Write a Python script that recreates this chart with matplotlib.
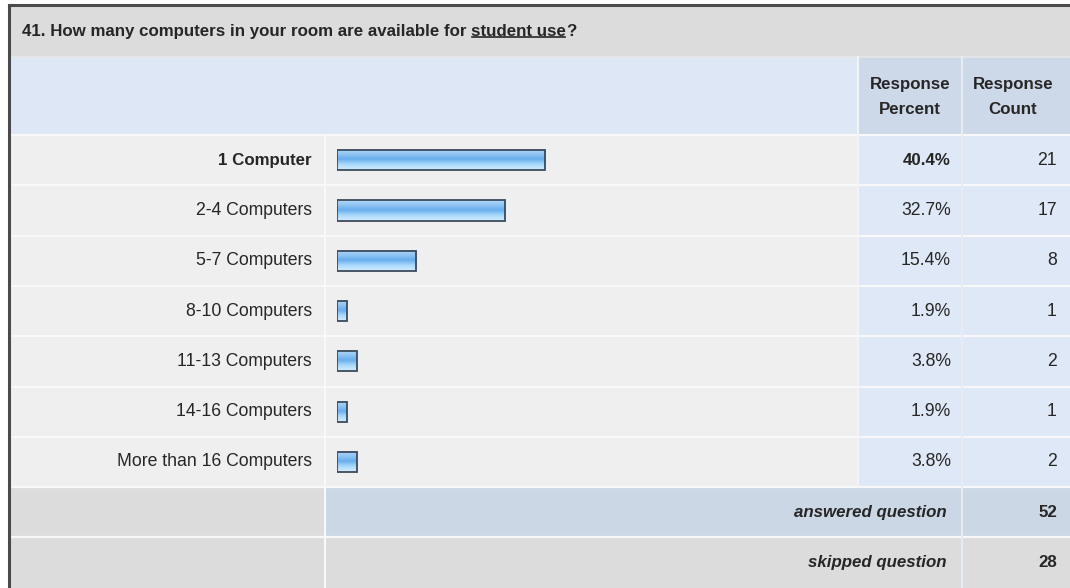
import numpy as np
import matplotlib
matplotlib.use("Agg")
import matplotlib.pyplot as plt
from matplotlib.colors import LinearSegmentedColormap
from matplotlib.patches import Rectangle

plt.rcParams['font.family'] = ['Liberation Sans', 'DejaVu Sans']

# ---- survey data ----
question_main = "41. How many computers in your room are available for "
question_emph = "student use"
question_end = "?"
categories = ["1 Computer", "2-4 Computers", "5-7 Computers", "8-10 Computers",
              "11-13 Computers", "14-16 Computers", "More than 16 Computers"]
percents = [40.4, 32.7, 15.4, 1.9, 3.8, 1.9, 3.8]
counts = [21, 17, 8, 1, 2, 1, 2]
answered = 52
skipped = 28

W, H = 1070, 588
fig = plt.figure(figsize=(W / 100, H / 100), dpi=100)
fig.patch.set_facecolor("white")
ax = fig.add_axes([0, 0, 1, 1])
ax.set_xlim(0, W)
ax.set_ylim(H, 0)
ax.axis("off")

TXT = "#262626"
FS_B = 12.2      # bold text
FS_R = 12.7      # regular text
GREY = "#dcdcdc"
ROWBG = "#efefef"
HEADBLUE = "#dde7f6"
COLBLUE = "#cdd8e8"
CELLBLUE = "#dfe8f6"
SUMBLUE = "#ccd7e6"

x0, xc1, xc2, xc3, x4 = 9, 325, 858, 962, W
y_title, y_head, y_rows = 6, 57, 135
row_h = 50.3
n = len(categories)
y_sum = y_rows + n * row_h


def cell(x1, y1, x2, y2, color):
    ax.add_patch(Rectangle((x1, y1), x2 - x1, y2 - y1, facecolor=color,
                           edgecolor="none", zorder=1))


# title band
cell(x0, y_title, x4, y_head, GREY)
# header band
cell(x0, y_head, xc2, y_rows, HEADBLUE)
cell(xc2, y_head, xc3, y_rows, COLBLUE)
cell(xc3, y_head, x4, y_rows, COLBLUE)

# body rows
for i in range(n):
    ya = y_rows + i * row_h
    yb = ya + row_h
    cell(x0, ya, xc2, yb, ROWBG)
    cell(xc2, ya, x4, yb, CELLBLUE)

# summary rows
cell(x0, y_sum, xc1, y_sum + row_h, GREY)
cell(xc1, y_sum, x4, y_sum + row_h, SUMBLUE)
cell(x0, y_sum + row_h, x4, H, GREY)

# grid lines
for i in range(n + 2):
    yy = y_rows + i * row_h
    ax.plot([x0, x4], [yy, yy], color="#f8f8f8", lw=1.6, zorder=2)
ax.plot([x0, x4], [y_head, y_head], color="#e6e6e6", lw=1.2, zorder=2)
ax.plot([xc1, xc1], [y_rows, H], color="#fafafa", lw=1.4, zorder=2)
ax.plot([xc2, xc2], [y_head, y_sum], color="#f4f4f4", lw=1.4, zorder=2)
ax.plot([xc3, xc3], [y_head, H], color="#e8edf4", lw=1.4, zorder=2)

# outer frame (left and top)
ax.plot([x0, x0], [y_title - 1, H], color="#4a4a4a", lw=2.2, zorder=5)
ax.plot([x0, x4], [y_title - 1, y_title - 1], color="#4a4a4a", lw=2.2, zorder=5)

# question title with underlined emphasis
ty = (y_title + y_head) / 2
t1 = ax.text(22, ty, question_main, fontsize=FS_B,
             fontweight="bold", color=TXT, va="center", ha="left", zorder=6)
fig.canvas.draw()
r = fig.canvas.get_renderer()
inv = ax.transData.inverted()
bb = t1.get_window_extent(r)
xe = inv.transform((bb.x1, bb.y0))[0]
t2 = ax.text(xe, ty, question_emph, fontsize=FS_B,
             fontweight="bold", color=TXT, va="center", ha="left", zorder=6)
bb2 = t2.get_window_extent(r)
xs2, yb2 = inv.transform((bb2.x0, bb2.y0))
xe2 = inv.transform((bb2.x1, bb2.y0))[0]
ax.plot([xs2 + 1, xe2 - 1], [yb2 - 2.5, yb2 - 2.5], color=TXT, lw=1.2, zorder=6)
ax.text(xe2, ty, question_end, fontsize=FS_B,
        fontweight="bold", color=TXT, va="center", ha="left", zorder=6)

# column headers
for xc, label in [((xc2 + xc3) / 2, "Response\nPercent"),
                  ((xc3 + x4) / 2 - 3, "Response\nCount")]:
    ax.text(xc, (y_head + y_rows) / 2 + 1, label, fontsize=FS_B, fontweight="bold",
            color=TXT, ha="center", va="center", linespacing=1.75, zorder=6)

# row labels and values
top = max(percents)
for i, (cat, p, c) in enumerate(zip(categories, percents, counts)):
    yc = y_rows + (i + 0.5) * row_h
    bold = p == top
    fs = FS_B if bold else FS_R
    w = "bold" if bold else "normal"
    ax.text(312, yc, cat, fontsize=fs, fontweight=w, color=TXT,
            ha="right", va="center", zorder=6)
    ax.text(951, yc, f"{p:.1f}%", fontsize=fs, fontweight=w, color=TXT,
            ha="right", va="center", zorder=6)
    ax.text(1057, yc, f"{c}", fontsize=FS_R, color=TXT,
            ha="right", va="center", zorder=6)

# summary rows
ax.text(947, y_sum + row_h / 2, "answered question", fontsize=FS_B,
        fontweight="bold", style="italic", color=TXT, ha="right", va="center", zorder=6)
ax.text(1057, y_sum + row_h / 2, f"{answered}", fontsize=FS_B,
        fontweight="bold", color=TXT, ha="right", va="center", zorder=6)
ax.text(947, y_sum + 1.5 * row_h, "skipped question", fontsize=FS_B,
        fontweight="bold", style="italic", color=TXT, ha="right", va="center", zorder=6)
ax.text(1057, y_sum + 1.5 * row_h, f"{skipped}", fontsize=FS_B,
        fontweight="bold", color=TXT, ha="right", va="center", zorder=6)

# bar area: 0-100 % scale inside the bar column
bx0, bx1 = 337, 337 + 515
axb = fig.add_axes([bx0 / W, 1 - y_sum / H, (bx1 - bx0) / W, (y_sum - y_rows) / H])
axb.patch.set_alpha(0)
axb.axis("off")

grad_cmap = LinearSegmentedColormap.from_list(
    "glass", [(0.0, "#b3d8f8"), (0.25, "#8cc3f3"), (0.48, "#68adee"),
              (0.72, "#a8d8fb"), (1.0, "#d4edff")])
grad = np.linspace(0, 1, 64).reshape(-1, 1)
bar_h = 0.4
for i, p in enumerate(percents):
    axb.imshow(grad, cmap=grad_cmap, aspect="auto", interpolation="bilinear",
               extent=(0, p, i + bar_h / 2, i - bar_h / 2), zorder=2)
axb.barh(range(n), percents, height=bar_h, left=0, fill=False,
         edgecolor="#3b4b5c", linewidth=1.3, zorder=3)
axb.set_xlim(0, 100)
axb.set_ylim(n - 0.5, -0.5)

fig.savefig("out.png", dpi=100, facecolor="white")
